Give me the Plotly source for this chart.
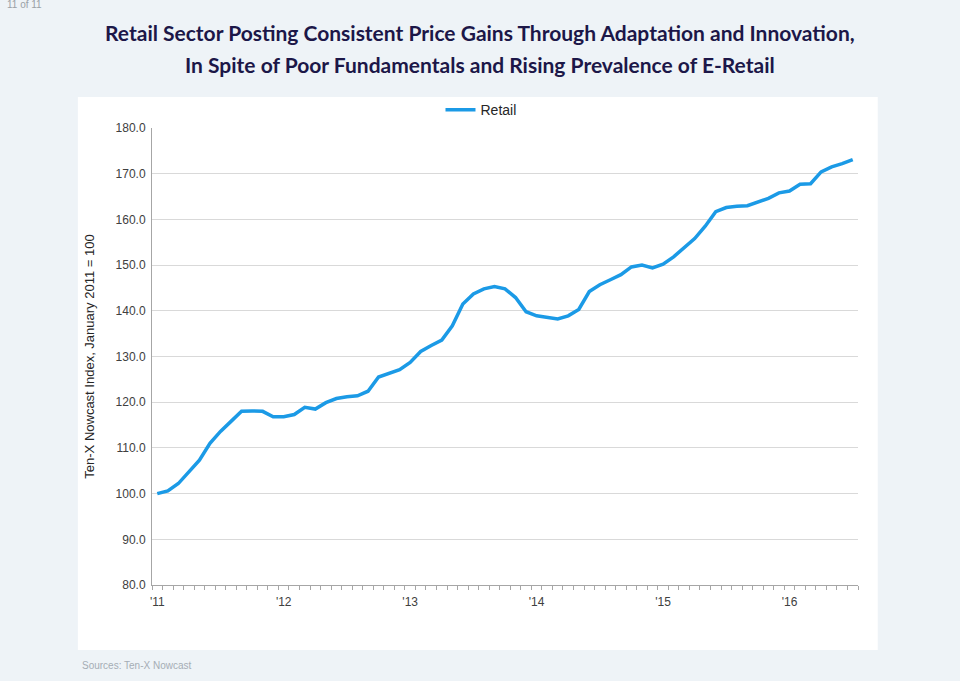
import pandas as pd
import plotly.graph_objects as go

# ─────────────────────────────────────────────────────────
# DATA — Ten-X Nowcast retail index, monthly, Jan 2011 = 100
# ─────────────────────────────────────────────────────────
retail = [
    100.0, 100.6, 102.2, 104.7, 107.3, 111.0, 113.6, 115.8, 118.0, 118.1, 118.0, 116.8,   # 2011
    116.8, 117.3, 118.9, 118.5, 119.9, 120.8, 121.2, 121.4, 122.4, 125.5, 126.3, 127.1,   # 2012
    128.7, 131.1, 132.4, 133.6, 136.7, 141.5, 143.7, 144.8, 145.3, 144.8, 142.9, 139.8,   # 2013
    138.9, 138.5, 138.2, 138.9, 140.3, 144.2, 145.7, 146.8, 147.9, 149.6, 150.0, 149.4,   # 2014
    150.2, 151.8, 153.7, 155.8, 158.5, 161.7, 162.6, 162.9, 163.0, 163.8, 164.6, 165.8,   # 2015
    166.2, 167.7, 167.8, 170.4, 171.5, 172.2, 173.1,                                      # 2016
]
months = pd.date_range("2011-01-01", periods=len(retail), freq="MS").strftime("%Y-%m").tolist()
year_labels = ["'11", "'12", "'13", "'14", "'15", "'16"]

title_lines = [
    "Retail Sector Posting Consistent Price Gains Through Adaptation and Innovation,",
    "In Spite of Poor Fundamentals and Rising Prevalence of E-Retail",
]

# label only the January of each year, blank elsewhere
jan_months = [m for m in months if m.endswith("-01")]
tick_text = []
for m in months:
    tick_text.append(year_labels[jan_months.index(m)] if m in jan_months else "")

# ─────────────────────────────────────────────────────────
# FIGURE
# ─────────────────────────────────────────────────────────
BG = "#eef3f7"
NAVY = "#1c1748"
AXIS_FONT = dict(family="Liberation Sans, Arial, sans-serif", size=12, color="#404040")

fig = go.Figure()
fig.add_trace(go.Scatter(
    x=months,
    y=retail,
    mode="lines",
    name="Retail",
    line=dict(color="#1b9ae6", width=3.5),
))

# white panel behind the chart
fig.add_shape(
    type="rect", xref="paper", yref="paper",
    x0=-0.105, x1=1.028, y0=-0.142, y1=1.068,
    fillcolor="white", line=dict(width=0), layer="below",
)

for i, line in enumerate(title_lines):
    fig.add_annotation(
        text=line, xref="paper", yref="paper",
        x=0.4646, y=1.208 - i * 0.07, xanchor="center", yanchor="middle",
        showarrow=False,
        font=dict(family="Lato, sans-serif", size=21, color=NAVY, weight="bold"),
    )

fig.add_annotation(
    text="11 of 11", xref="paper", yref="paper",
    x=-0.208, y=1.27, xanchor="left", yanchor="middle", showarrow=False,
    font=dict(family="Liberation Sans, sans-serif", size=10, color="#9aa0a6"),
)
fig.add_annotation(
    text="Sources: Ten-X Nowcast", xref="paper", yref="paper",
    x=-0.102, y=-0.177, xanchor="left", yanchor="middle", showarrow=False,
    font=dict(family="Liberation Sans, sans-serif", size=10, color="#a5adb5"),
)

fig.update_layout(
    width=960, height=681,
    paper_bgcolor=BG,
    plot_bgcolor="white",
    margin=dict(l=152, r=102, t=128, b=96),
    showlegend=True,
    legend=dict(
        orientation="h", x=0.466, y=1.039, xanchor="center", yanchor="middle",
        font=dict(family="Liberation Sans, Arial, sans-serif", size=14, color="#262626"),
        bgcolor="rgba(0,0,0,0)", itemwidth=30,
    ),
    xaxis=dict(
        type="category",
        range=[-0.5, len(months) - 0.5],
        tickvals=months,
        ticktext=tick_text,
        tickson="boundaries",
        ticks="outside", ticklen=4, tickcolor="#a6a6a6",
        ticklabelstandoff=6,
        showgrid=False,
        showline=True, linecolor="#a6a6a6", linewidth=1,
        tickfont=AXIS_FONT,
        tickangle=0,
    ),
    yaxis=dict(
        range=[80, 180], dtick=10, tickformat=".1f",
        showgrid=True, gridcolor="#d9d9d9", gridwidth=1,
        showline=True, linecolor="#a6a6a6", linewidth=1,
        zeroline=False,
        ticks="", tickfont=AXIS_FONT,
        ticklabelstandoff=3,
        title=dict(
            text="Ten-X Nowcast Index, January 2011 = 100",
            font=dict(family="Liberation Sans, Arial, sans-serif", size=13, color="#262626"),
            standoff=18,
        ),
    ),
)

# drop the page's default body margin so the figure fills the window
fig.write_html(
    "out.html",
    config={"displayModeBar": False},
    post_script="document.body.style.margin = '0';",
)
